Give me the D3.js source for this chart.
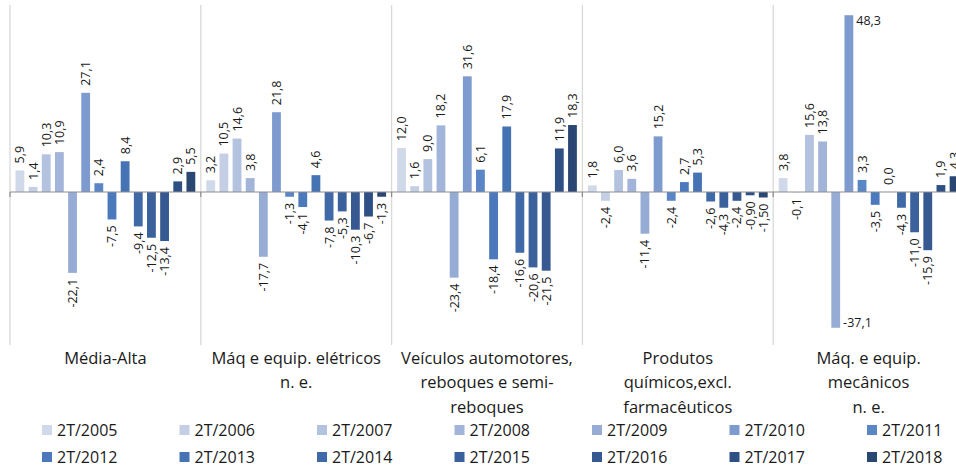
<!DOCTYPE html>
<html>
<head>
<meta charset="utf-8">
<script src="https://cdn.jsdelivr.net/npm/d3@7"></script>
<style>
  html, body { margin: 0; padding: 0; background: #fff; }
  svg { display: block; font-family: "Open Sans", sans-serif; }
</style>
</head>
<body>
<svg id="chart" width="956" height="470"></svg>
<script>
// Sectors (x categories), wrapped over several lines
const categories = [
  ["Média-Alta"],
  ["Máq e equip. elétricos", "n. e."],
  ["Veículos automotores,", "reboques e semi-", "reboques"],
  ["Produtos", "químicos,excl.", "farmacêuticos"],
  ["Máq. e equip.", "mecânicos", "n. e."]
];

// Quarters (series)
const quarters = ["2T/2005", "2T/2006", "2T/2007", "2T/2008", "2T/2009", "2T/2010", "2T/2011",
                  "2T/2012", "2T/2013", "2T/2014", "2T/2015", "2T/2016", "2T/2017", "2T/2018"];

// Variation (%) per sector, one value per quarter
const mediaAlta   = [5.9, 1.4, 10.3, 10.9, -22.1, 27.1, 2.4, -7.5, 8.4, -9.4, -12.5, -13.4, 2.9, 5.5];
const eletricos   = [3.2, 10.5, 14.6, 3.8, -17.7, 21.8, -1.3, -4.1, 4.6, -7.8, -5.3, -10.3, -6.7, -1.3];
const veiculos    = [12.0, 1.6, 9.0, 18.2, -23.4, 31.6, 6.1, -18.4, 17.9, -16.6, -20.6, -21.5, 11.9, 18.3];
const quimicos    = [1.8, -2.4, 6.0, 3.6, -11.4, 15.2, -2.4, 2.7, 5.3, -2.6, -4.3, -2.4, -0.90, -1.50];
const mecanicos   = [3.8, -0.1, 15.6, 13.8, -37.1, 48.3, 3.3, -3.5, 0.0, -4.3, -11.0, -15.9, 1.9, 4.3];

// Decimal places shown in each sector's labels
const quimicosDecimals = [1, 1, 1, 1, 1, 1, 1, 1, 1, 1, 1, 1, 2, 2];

const sectorValues = [mediaAlta, eletricos, veiculos, quimicos, mecanicos];
const sectorDecimals = [null, null, null, quimicosDecimals, null];

const colors = ["#d0d9ea", "#c4cfe5", "#b3c2df", "#a2b4d9", "#97acd5", "#7e9bcf", "#5b86c5",
                "#4b79bc", "#4573b3", "#3f69a7", "#3a619b", "#355990", "#2f5084", "#2a4773"];

const svg = d3.select("#chart");

const x0 = d3.scaleBand()
  .domain(d3.range(categories.length))
  .range([10, 10 + 5 * 190.8])
  .padding(0);

const x1 = d3.scaleBand()
  .domain(quarters)
  .range([0, x0.bandwidth()])
  .paddingInner(0.33)
  .paddingOuter(0.42);

const y = d3.scaleLinear()
  .domain([-40, 50])
  .range([192 + 40 * 3.66, 192 - 50 * 3.66]);

const fmt = (v, d) => d3.format(`.${d}f`)(v).replace(".", ",").replace("−", "-");

// Sector separators and left axis
const seps = d3.range(categories.length + 1).map(i => i < categories.length ? x0(i) : x0.range()[1]);
svg.append("g").selectAll("line").data(seps).join("line")
  .attr("x1", d => d).attr("x2", d => d)
  .attr("y1", 5).attr("y2", 345)
  .attr("stroke", "#d9d9d9").attr("stroke-width", 1.3);

// Bars
const groups = svg.append("g").selectAll("g").data(sectorValues).join("g")
  .attr("transform", (d, i) => `translate(${x0(i)},0)`);

groups.selectAll("rect").data(d => d.map((v, k) => ({ v, k }))).join("rect")
  .attr("x", d => x1(quarters[d.k]))
  .attr("width", x1.bandwidth())
  .attr("y", d => y(Math.max(0, d.v)))
  .attr("height", d => Math.abs(y(d.v) - y(0)))
  .attr("fill", d => colors[d.k]);

// Zero line and ticks on it
svg.append("line")
  .attr("x1", 10).attr("x2", 956)
  .attr("y1", y(0)).attr("y2", y(0))
  .attr("stroke", "#8c8c8c").attr("stroke-width", 1.2);
svg.append("g").selectAll("line").data(seps).join("line")
  .attr("x1", d => d).attr("x2", d => d)
  .attr("y1", y(0)).attr("y2", y(0) + 5)
  .attr("stroke", "#8c8c8c").attr("stroke-width", 1.2);

// Value labels
groups.each(function (vals, gi) {
  const g = d3.select(this);
  const dec = sectorDecimals[gi];
  vals.forEach((v, k) => {
    const txt = fmt(v, dec ? dec[k] : 1);
    const cx = x1(quarters[k]) + x1.bandwidth() / 2;
    const horizontal = gi === 4 && (k === 4 || k === 5);
    if (horizontal) {
      g.append("text")
        .attr("x", x1(quarters[k]) + x1.bandwidth() + 3)
        .attr("y", y(v))
        .attr("dy", v > 0 ? "0.75em" : "-0.05em")
        .attr("font-size", 12.5).attr("fill", "#1a1a1a")
        .text(txt);
    } else {
      const yy = v >= 0 ? y(v) - 7 : y(v) + 6;
      g.append("text")
        .attr("transform", `translate(${cx},${yy}) rotate(-90)`)
        .attr("dy", "0.36em")
        .attr("text-anchor", v >= 0 ? "start" : "end")
        .attr("font-size", 12.5).attr("fill", "#1a1a1a")
        .text(txt);
    }
  });
});

// Sector names
const catG = svg.append("g").selectAll("text").data(categories).join("text")
  .attr("x", (d, i) => x0(i) + x0.bandwidth() / 2)
  .attr("y", 358)
  .attr("text-anchor", "middle")
  .attr("font-size", 16.5).attr("fill", "#1a1a1a");
catG.selectAll("tspan").data(d => d).join("tspan")
  .attr("x", function () { return d3.select(this.parentNode).attr("x"); })
  .attr("y", (d, j) => 358 + j * 24.5)
  .attr("dy", "0.35em")
  .text(d => d);

// Legend: two rows of seven
const leg = svg.append("g").selectAll("g").data(quarters).join("g")
  .attr("transform", (d, i) => `translate(${42 + (i % 7) * 137.5},${i < 7 ? 430 : 457})`);
leg.append("rect")
  .attr("x", 0).attr("y", -5).attr("width", 10).attr("height", 10)
  .attr("fill", (d, i) => colors[i]);
leg.append("text")
  .attr("x", 15).attr("dy", "0.35em")
  .attr("font-size", 16).attr("fill", "#1a1a1a")
  .text(d => d);
</script>
</body>
</html>
